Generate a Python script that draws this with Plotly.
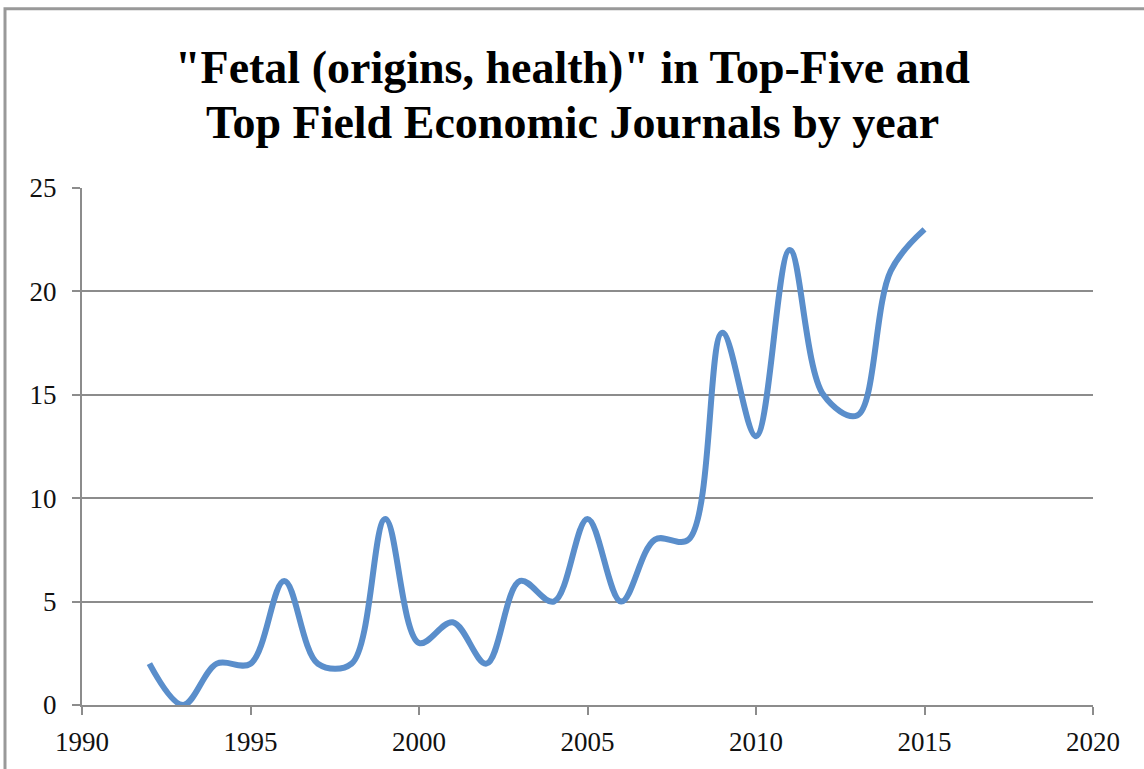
import plotly.graph_objects as go

years = [1992, 1993, 1994, 1995, 1996, 1997, 1998, 1999, 2000, 2001, 2002, 2003,
         2004, 2005, 2006, 2007, 2008, 2009, 2010, 2011, 2012, 2013, 2014, 2015]
counts = [2, 0, 2, 2, 6, 2, 2, 9, 3, 4, 2, 6, 5, 9, 5, 8, 8, 18, 13, 22, 15, 14, 21, 23]
x_ticks = [1990, 1995, 2000, 2005, 2010, 2015, 2020]
y_ticks = [0, 5, 10, 15, 20, 25]

title_lines = ['"Fetal (origins, health)" in Top-Five and',
               'Top Field Economic Journals by year']

W, H = 1144, 769
L, R, T, B = 82, 51, 188, 62
PH = H - T - B

def py(p):
    return 1 + (T - p) / PH

def px(p):
    return (p - L) / (W - L - R)

fig = go.Figure()
fig.add_trace(go.Scatter(
    x=years, y=counts, mode="lines",
    line=dict(color="#5A8ECB", width=6, shape="spline", smoothing=1.0),
    hoverinfo="x+y", showlegend=False,
))

annotations = []
for line, ypix in zip(title_lines, [67, 122]):
    annotations.append(dict(
        text="<b>" + line + "</b>", xref="paper", yref="paper",
        x=0.5 * (px(0) + px(W)), y=py(ypix), xanchor="center", yanchor="middle",
        showarrow=False,
        font=dict(family="Liberation Serif", size=46, color="black"),
    ))

fig.update_layout(
    width=W, height=H,
    margin=dict(l=L, r=R, t=T, b=B),
    paper_bgcolor="white", plot_bgcolor="white",
    font=dict(family="Liberation Serif", size=27, color="#111"),
    xaxis=dict(range=[1990, 2020], tickvals=x_ticks, ticks="outside", ticklen=8,
               tickwidth=2, tickcolor="#8c8c8c", showgrid=False, showline=True,
               linecolor="#8c8c8c", linewidth=2, zeroline=False,
               ticklabelstandoff=4, tickfont=dict(size=27)),
    yaxis=dict(range=[0, 25], tickvals=y_ticks, ticks="outside", ticklen=8,
               tickwidth=2, tickcolor="#8c8c8c", showgrid=True, gridcolor="#8c8c8c",
               gridwidth=2, showline=True, linecolor="#8c8c8c", linewidth=2,
               zeroline=False, ticklabelstandoff=10, tickfont=dict(size=27)),
    annotations=annotations,
    shapes=[dict(type="rect", xref="paper", yref="paper",
                 x0=px(5), x1=px(W + 20), y0=py(H + 20), y1=py(8),
                 line=dict(color="#999999", width=3), layer="below")],
)

fig.write_html("out.html", config={"displayModeBar": False},
               post_script="document.body.style.margin='0';")
